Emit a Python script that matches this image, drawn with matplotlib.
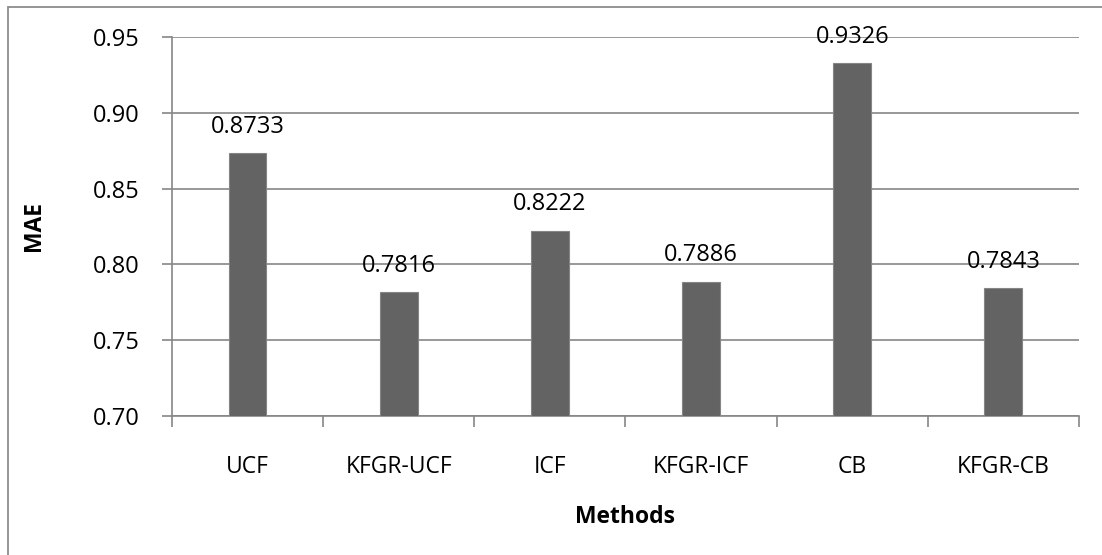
import matplotlib
matplotlib.use("Agg")
import matplotlib.pyplot as plt
from matplotlib.patches import Rectangle

methods = ["UCF", "KFGR-UCF", "ICF", "KFGR-ICF", "CB", "KFGR-CB"]
mae = [0.8733, 0.7816, 0.8222, 0.7886, 0.9326, 0.7843]
y_ticks = [0.70, 0.75, 0.80, 0.85, 0.90, 0.95]

plt.rcParams["font.family"] = ["Open Sans", "DejaVu Sans"]
FS = 17
FS_CAT = 16.5

fig = plt.figure(figsize=(11.02, 5.55), dpi=100)
ax = fig.add_axes([0.1561, 0.2505, 0.823, 0.6828])

grid_c = "#868686"
x = list(range(len(methods)))
ax.bar(x, [v - y_ticks[0] for v in mae], bottom=y_ticks[0], width=0.25,
       color="#636363", edgecolor="#858585", linewidth=0.8, zorder=3)

for xi, v in zip(x, mae):
    ax.text(xi, v + 0.0095, f"{v:.4f}", ha="center", va="bottom",
            fontsize=FS, color="black", zorder=4)

ax.set_xlim(-0.5, len(methods) - 0.5)
ax.set_ylim(y_ticks[0], y_ticks[-1])
ax.set_yticks(y_ticks)
ax.set_yticklabels([f"{t:.2f}" for t in y_ticks], fontsize=FS)
ax.yaxis.grid(True, color=grid_c, linewidth=1.2, zorder=0)
ax.set_axisbelow(True)

ax.set_xticks(x)
ax.set_xticklabels(methods, fontsize=FS_CAT)
ax.tick_params(axis="x", length=0, pad=28)
ax.set_xticks([i - 0.5 for i in range(len(methods) + 1)], minor=True)
ax.tick_params(axis="x", which="minor", length=8, width=1.2, color=grid_c)
ax.tick_params(axis="y", length=7, width=1.2, color=grid_c, pad=16)

for s in ("top", "right"):
    ax.spines[s].set_visible(False)
for s in ("left", "bottom"):
    ax.spines[s].set_color(grid_c)
    ax.spines[s].set_linewidth(1.2)

ax.set_ylabel("MAE", fontsize=FS_CAT, fontweight="bold", labelpad=34)
ax.set_xlabel("Methods", fontsize=FS_CAT, fontweight="bold", labelpad=19)

fig.patches.append(Rectangle((8 / 1102, -0.05), 1.2, 1 - 7 / 555 + 0.05,
                             transform=fig.transFigure, fill=False,
                             edgecolor="#8c8c8c", linewidth=1.3))

fig.savefig("out.png", dpi=100)
